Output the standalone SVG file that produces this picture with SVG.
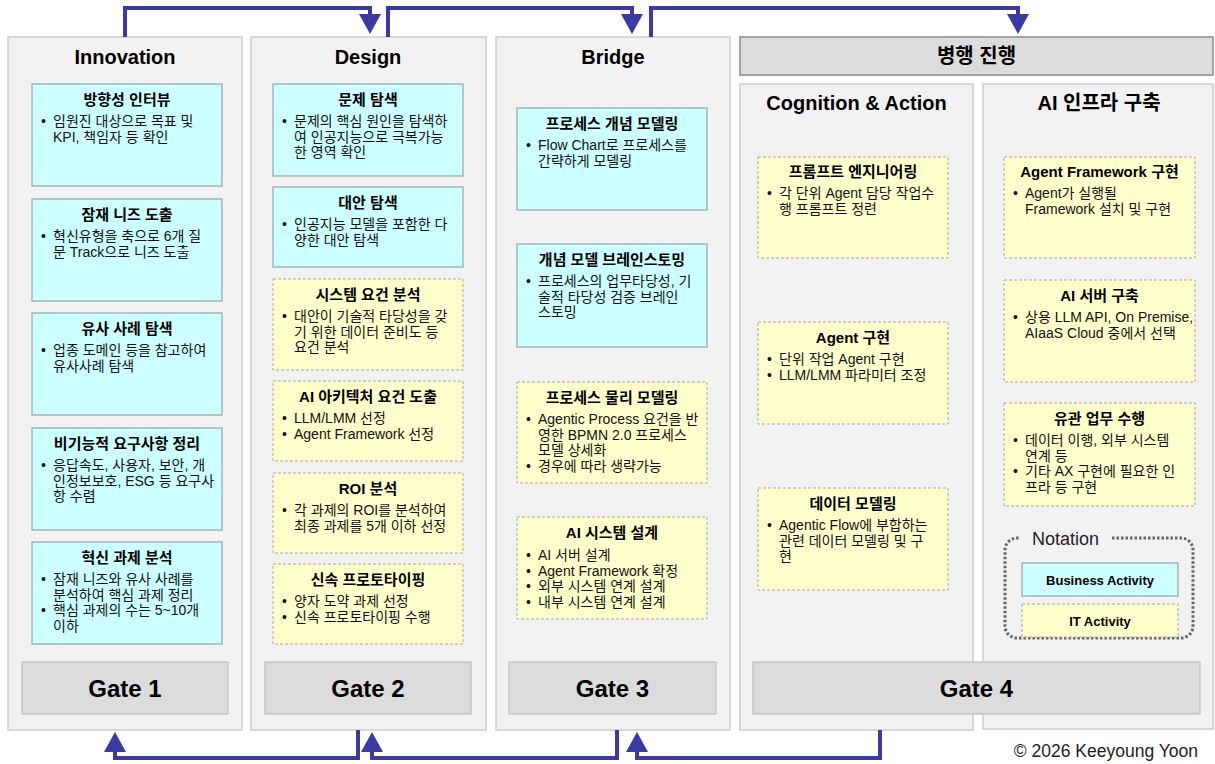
<svg xmlns="http://www.w3.org/2000/svg" width="1215" height="764" viewBox="0 0 1215 764">
<defs>
<style>
text{font-family:"Liberation Sans","Noto Sans CJK KR",sans-serif;fill:#111}
.col{fill:#f2f2f2;stroke:#cdcdcd;stroke-width:1.5}
.hdr{fill:#dcdcdc;stroke:#8a8a8a;stroke-width:1.5}
.gate{fill:#dcdcdc;stroke:#b5b5b5;stroke-width:1}
.biz{fill:#ccffff;stroke:#a3b5b7;stroke-width:1.5}
.it{fill:#ffffcc;stroke:#a8a8a8;stroke-width:1;stroke-dasharray:3 2}
.ct{font-size:20px;font-weight:bold;text-anchor:middle;fill:#000}
.bt{font-size:15px;font-weight:bold;text-anchor:middle;fill:#000}
.tx{font-size:14px}
.gt{font-size:24px;font-weight:bold;text-anchor:middle;fill:#000}
.nt{font-size:13px;font-weight:bold;text-anchor:middle;fill:#000}
.conn{fill:none;stroke:#3a3aa0;stroke-width:4;stroke-linejoin:miter}
</style>
<marker id="ah" markerUnits="userSpaceOnUse" markerWidth="20" markerHeight="22" viewBox="0 0 20 22" refX="0" refY="11" orient="auto">
<path d="M0,0 L20,11 L0,22 Z" fill="#3a3aa0"/>
</marker>
</defs>
<rect width="1215" height="764" fill="#fff"/>

<!-- columns -->
<g id="col-innovation"><rect class="col" x="8" y="37" width="234" height="693"/><text class="ct" x="125" y="64">Innovation</text></g>
<g id="col-design"><rect class="col" x="251" y="37" width="235" height="693"/><text class="ct" x="368" y="64">Design</text></g>
<g id="col-bridge"><rect class="col" x="496" y="37" width="234" height="693"/><text class="ct" x="613" y="64">Bridge</text></g>
<g id="hdr-parallel"><rect class="hdr" x="740" y="37" width="473" height="38"/><text class="ct" x="976.5" y="63">병행 진행</text></g>
<g id="col-cognition"><rect class="col" x="740" y="84" width="233" height="646"/><text class="ct" x="856.5" y="110">Cognition &amp; Action</text></g>
<g id="col-infra"><rect class="col" x="983" y="84" width="230" height="645"/><text class="ct" x="1099" y="110">AI 인프라 구축</text></g>

<!-- Innovation -->
<g id="n-interview"><rect class="biz" x="32" y="84" width="190" height="102"/><text class="bt" x="127" y="105">방향성 인터뷰</text>
<text class="tx" x="41" y="126">•</text><text class="tx" x="53" y="126">임원진 대상으로 목표 및</text><text class="tx" x="53" y="141.5">KPI, 책임자 등 확인</text></g>
<g id="n-needs"><rect class="biz" x="32" y="199" width="190" height="102"/><text class="bt" x="127" y="220">잠재 니즈 도출</text>
<text class="tx" x="41" y="241">•</text><text class="tx" x="53" y="241">혁신유형을 축으로 6개 질</text><text class="tx" x="53" y="256.5">문 Track으로 니즈 도출</text></g>
<g id="n-cases"><rect class="biz" x="32" y="313" width="190" height="102"/><text class="bt" x="127" y="334">유사 사례 탐색</text>
<text class="tx" x="41" y="355">•</text><text class="tx" x="53" y="355">업종 도메인 등을 참고하여</text><text class="tx" x="53" y="370.5">유사사례 탐색</text></g>
<g id="n-nonfunc"><rect class="biz" x="32" y="428" width="190" height="102"/><text class="bt" x="127" y="449">비기능적 요구사항 정리</text>
<text class="tx" x="41" y="470">•</text><text class="tx" x="53" y="470">응답속도, 사용자, 보안, 개</text><text class="tx" x="53" y="485.5">인정보보호, ESG 등 요구사</text><text class="tx" x="53" y="501">항 수렴</text></g>
<g id="n-analysis"><rect class="biz" x="32" y="542" width="190" height="102"/><text class="bt" x="127" y="563">혁신 과제 분석</text>
<text class="tx" x="41" y="584">•</text><text class="tx" x="53" y="584">잠재 니즈와 유사 사례를</text><text class="tx" x="53" y="599.5">분석하여 핵심 과제 정리</text>
<text class="tx" x="41" y="615">•</text><text class="tx" x="53" y="615">핵심 과제의 수는 5~10개</text><text class="tx" x="53" y="630.5">이하</text></g>

<!-- Design -->
<g id="n-problem"><rect class="biz" x="273" y="84" width="190" height="92"/><text class="bt" x="368" y="105">문제 탐색</text>
<text class="tx" x="282" y="126">•</text><text class="tx" x="294" y="126">문제의 핵심 원인을 탐색하</text><text class="tx" x="294" y="141.5">여 인공지능으로 극복가능</text><text class="tx" x="294" y="157">한 영역 확인</text></g>
<g id="n-alt"><rect class="biz" x="273" y="187" width="190" height="80"/><text class="bt" x="368" y="208">대안 탐색</text>
<text class="tx" x="282" y="229">•</text><text class="tx" x="294" y="229">인공지능 모델을 포함한 다</text><text class="tx" x="294" y="244.5">양한 대안 탐색</text></g>
<g id="n-sysreq"><rect class="it" x="273" y="279" width="190" height="91"/><text class="bt" x="368" y="300">시스템 요건 분석</text>
<text class="tx" x="282" y="321">•</text><text class="tx" x="294" y="321">대안이 기술적 타당성을 갖</text><text class="tx" x="294" y="336.5">기 위한 데이터 준비도 등</text><text class="tx" x="294" y="352">요건 분석</text></g>
<g id="n-arch"><rect class="it" x="273" y="381" width="190" height="80"/><text class="bt" x="368" y="402">AI 아키텍처 요건 도출</text>
<text class="tx" x="282" y="423">•</text><text class="tx" x="294" y="423">LLM/LMM 선정</text>
<text class="tx" x="282" y="438.5">•</text><text class="tx" x="294" y="438.5">Agent Framework 선정</text></g>
<g id="n-roi"><rect class="it" x="273" y="473" width="190" height="80"/><text class="bt" x="368" y="494">ROI 분석</text>
<text class="tx" x="282" y="515">•</text><text class="tx" x="294" y="515">각 과제의 ROI를 분석하여</text><text class="tx" x="294" y="530.5">최종 과제를 5개 이하 선정</text></g>
<g id="n-proto"><rect class="it" x="273" y="564" width="190" height="80"/><text class="bt" x="368" y="585">신속 프로토타이핑</text>
<text class="tx" x="282" y="606">•</text><text class="tx" x="294" y="606">양자 도약 과제 선정</text>
<text class="tx" x="282" y="621.5">•</text><text class="tx" x="294" y="621.5">신속 프로토타이핑 수행</text></g>

<!-- Bridge -->
<g id="n-concept"><rect class="biz" x="517" y="108" width="190" height="102"/><text class="bt" x="612" y="129">프로세스 개념 모델링</text>
<text class="tx" x="526" y="150">•</text><text class="tx" x="538" y="150">Flow Chart로 프로세스를</text><text class="tx" x="538" y="165.5">간략하게 모델링</text></g>
<g id="n-brain"><rect class="biz" x="517" y="244" width="190" height="103"/><text class="bt" x="612" y="265">개념 모델 브레인스토밍</text>
<text class="tx" x="526" y="286">•</text><text class="tx" x="538" y="286">프로세스의 업무타당성, 기</text><text class="tx" x="538" y="301.5">술적 타당성 검증 브레인</text><text class="tx" x="538" y="317">스토밍</text></g>
<g id="n-physical"><rect class="it" x="517" y="382" width="190" height="101"/><text class="bt" x="612" y="403">프로세스 물리 모델링</text>
<text class="tx" x="526" y="424">•</text><text class="tx" x="538" y="424">Agentic Process 요건을 반</text><text class="tx" x="538" y="439.5">영한 BPMN 2.0 프로세스</text><text class="tx" x="538" y="455">모델 상세화</text>
<text class="tx" x="526" y="470.5">•</text><text class="tx" x="538" y="470.5">경우에 따라 생략가능</text></g>
<g id="n-aisys"><rect class="it" x="517" y="517" width="190" height="102"/><text class="bt" x="612" y="538">AI 시스템 설계</text>
<text class="tx" x="526" y="560">•</text><text class="tx" x="538" y="560">AI 서버 설계</text>
<text class="tx" x="526" y="575.5">•</text><text class="tx" x="538" y="575.5">Agent Framework 확정</text>
<text class="tx" x="526" y="591">•</text><text class="tx" x="538" y="591">외부 시스템 연계 설계</text>
<text class="tx" x="526" y="606.5">•</text><text class="tx" x="538" y="606.5">내부 시스템 연계 설계</text></g>

<!-- Cognition -->
<g id="n-prompt"><rect class="it" x="758" y="157" width="190" height="101"/><text class="bt" x="853" y="177">프롬프트 엔지니어링</text>
<text class="tx" x="767" y="198">•</text><text class="tx" x="779" y="198">각 단위 Agent 담당 작업수</text><text class="tx" x="779" y="213.5">행 프롬프트 정련</text></g>
<g id="n-agent"><rect class="it" x="758" y="322" width="190" height="102"/><text class="bt" x="853" y="343">Agent 구현</text>
<text class="tx" x="767" y="364">•</text><text class="tx" x="779" y="364">단위 작업 Agent 구현</text>
<text class="tx" x="767" y="379.5">•</text><text class="tx" x="779" y="379.5">LLM/LMM 파라미터 조정</text></g>
<g id="n-datamodel"><rect class="it" x="758" y="488" width="190" height="102"/><text class="bt" x="853" y="509">데이터 모델링</text>
<text class="tx" x="767" y="530">•</text><text class="tx" x="779" y="530">Agentic Flow에 부합하는</text><text class="tx" x="779" y="545.5">관련 데이터 모델링 및 구</text><text class="tx" x="779" y="561">현</text></g>

<!-- AI infra -->
<g id="n-framework"><rect class="it" x="1004" y="157" width="191" height="101"/><text class="bt" x="1099.5" y="177">Agent Framework 구현</text>
<text class="tx" x="1013" y="198">•</text><text class="tx" x="1025" y="198">Agent가 실행될</text><text class="tx" x="1025" y="213.5">Framework 설치 및 구현</text></g>
<g id="n-server"><rect class="it" x="1004" y="280" width="191" height="102"/><text class="bt" x="1099.5" y="301">AI 서버 구축</text>
<text class="tx" x="1013" y="322">•</text><text class="tx" x="1025" y="322">상용 LLM API, On Premise,</text><text class="tx" x="1025" y="337.5">AIaaS Cloud 중에서 선택</text></g>
<g id="n-related"><rect class="it" x="1004" y="403" width="191" height="103"/><text class="bt" x="1099.5" y="424">유관 업무 수행</text>
<text class="tx" x="1013" y="445">•</text><text class="tx" x="1025" y="445">데이터 이행, 외부 시스템</text><text class="tx" x="1025" y="460.5">연계 등</text>
<text class="tx" x="1013" y="476">•</text><text class="tx" x="1025" y="476">기타 AX 구현에 필요한 인</text><text class="tx" x="1025" y="491.5">프라 등 구현</text></g>

<!-- Notation -->
<g id="notation">
<path d="M1112,538 H1181 A12,12 0 0 1 1193,550 V626 A12,12 0 0 1 1181,638 H1017 A12,12 0 0 1 1005,626 V550 A12,12 0 0 1 1017,538 H1020" fill="none" stroke="#666" stroke-width="3" stroke-dasharray="2.5 2"/>
<text x="1032" y="545" style="font-size:18px;fill:#222">Notation</text>
<rect class="biz" x="1022" y="563" width="156" height="33"/><text class="nt" x="1100" y="584.5">Business Activity</text>
<rect class="it" x="1022" y="604" width="156" height="33"/><text class="nt" x="1100" y="625.5">IT Activity</text>
</g>

<!-- Gates -->
<g id="gate1"><rect class="gate" x="22" y="662" width="206" height="52"/><text class="gt" x="125" y="697">Gate 1</text></g>
<g id="gate2"><rect class="gate" x="265" y="662" width="206" height="52"/><text class="gt" x="368" y="697">Gate 2</text></g>
<g id="gate3"><rect class="gate" x="509" y="662" width="207" height="52"/><text class="gt" x="612.5" y="697">Gate 3</text></g>
<g id="gate4"><rect class="gate" x="753" y="662" width="447" height="52"/><text class="gt" x="976.5" y="697">Gate 4</text></g>

<!-- connectors -->
<g id="connectors">
<path class="conn" d="M125,37 V8 H370 V14" marker-end="url(#ah)"/>
<path class="conn" d="M388,37 V8 H632 V14" marker-end="url(#ah)"/>
<path class="conn" d="M651,37 V8 H1018 V14" marker-end="url(#ah)"/>
<path class="conn" d="M358,730 V758 H115 V752" marker-end="url(#ah)"/>
<path class="conn" d="M617,730 V758 H372 V752" marker-end="url(#ah)"/>
<path class="conn" d="M880,730 V758 H637 V752" marker-end="url(#ah)"/>
</g>

<text x="1198" y="757" style="font-size:17.5px;text-anchor:end;fill:#222">© 2026 Keeyoung Yoon</text>
</svg>
